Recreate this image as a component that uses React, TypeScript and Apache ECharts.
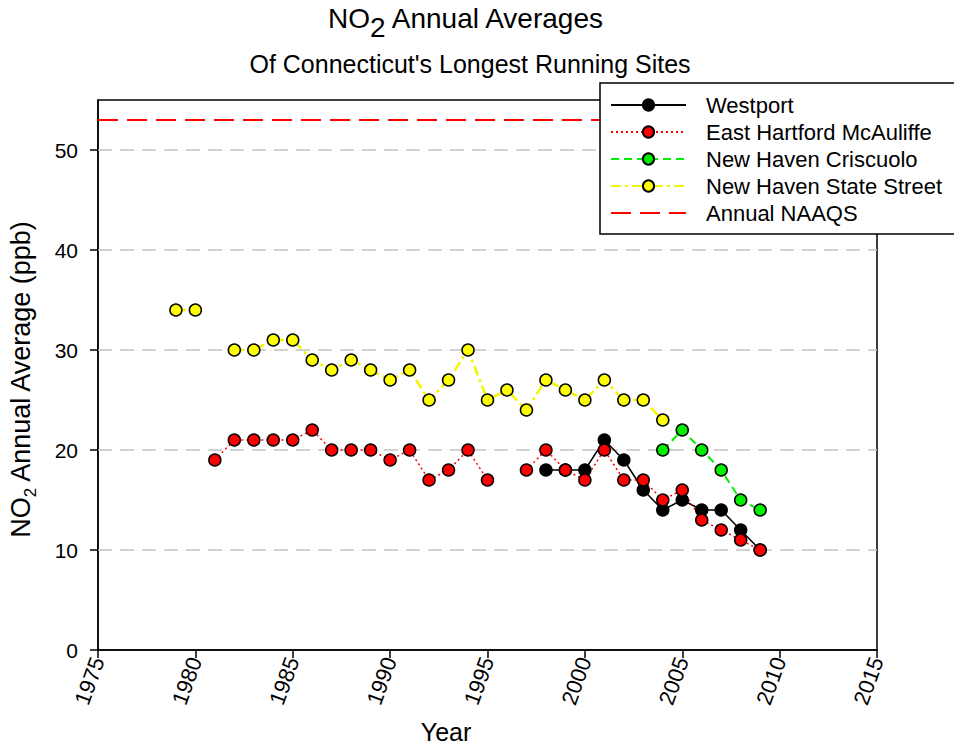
import React, { useEffect, useRef } from "react";
import * as echarts from "echarts";

const FONT = '"Liberation Sans", Arial, sans-serif';

const years = [
  1979, 1980, 1981, 1982, 1983, 1984, 1985, 1986, 1987, 1988, 1989, 1990, 1991, 1992, 1993, 1994,
  1995, 1996, 1997, 1998, 1999, 2000, 2001, 2002, 2003, 2004, 2005, 2006, 2007, 2008, 2009,
];
const westport = [
  null, null, null, null, null, null, null, null, null, null, null, null, null, null, null, null,
  null, null, null, 18, 18, 18, 21, 19, 16, 14, 15, 14, 14, 12, 10,
];
const eastHartford = [
  null, null, 19, 21, 21, 21, 21, 22, 20, 20, 20, 19, 20, 17, 18, 20,
  17, null, 18, 20, 18, 17, 20, 17, 17, 15, 16, 13, 12, 11, 10,
];
const criscuolo = [
  null, null, null, null, null, null, null, null, null, null, null, null, null, null, null, null,
  null, null, null, null, null, null, null, null, null, 20, 22, 20, 18, 15, 14,
];
const stateStreet = [
  34, 34, null, 30, 30, 31, 31, 29, 28, 29, 28, 27, 28, 25, 27, 30,
  25, 26, 24, 27, 26, 25, 27, 25, 25, 23, null, null, null, null, null,
];
const naaqsYears = [1975, 2015];
const naaqsValue = 53;
const gridValues = [10, 20, 30, 40, 50];
const yTicks = [0, 10, 20, 30, 40, 50];

function pairs(vals: (number | null)[]) {
  return years.map((y, i) => [y, vals[i]]);
}

function measure(text: string, size: number) {
  const c = document.createElement("canvas").getContext("2d");
  if (!c) return text.length * size * 0.55;
  c.font = `${size}px "Liberation Sans", Arial, sans-serif`;
  return c.measureText(text).width;
}

export default function App() {
  const ref = useRef<HTMLDivElement>(null);
  useEffect(() => {
    if (!ref.current) return;
    const chart = echarts.init(ref.current, null, { renderer: "svg" });

    const tSize = 28;
    const wNO = measure("NO", tSize);
    const w2 = measure("2", tSize);
    const wRest = measure(" Annual Averages", tSize);
    const tW = wNO + w2 + wRest;
    const tX = 467 - tW / 2;
    const tY = 4;

    const ySize = 27;
    const ySub = 17;
    const yNO = measure("NO", ySize);
    const y2 = measure("2", ySub);
    const yRest = measure(" Annual Average (ppb)", ySize);
    const yW = yNO + y2 + yRest;
    const yCenter = 378;

    const markerStyle = (color: string) => ({
      color,
      borderColor: "#000",
      borderWidth: 1.5,
    });

    const option: any = {
      animation: false,
      backgroundColor: "#fff",
      textStyle: { fontFamily: FONT },
      grid: {
        left: 98,
        right: 77,
        top: 100,
        bottom: 97,
        show: true,
        borderColor: "#000",
        borderWidth: 1.5,
        backgroundColor: "transparent",
      },
      legend: {
        orient: "vertical",
        left: 600,
        top: 83,
        padding: [11, 40, 10, 10],
        itemWidth: 75,
        itemHeight: 14,
        itemGap: 5,
        backgroundColor: "#fff",
        borderColor: "#000",
        borderWidth: 1.5,
        textStyle: { fontSize: 22, color: "#000", fontFamily: FONT, padding: [0, 0, 0, 15] },
        data: [
          "Westport",
          "East Hartford McAuliffe",
          "New Haven Criscuolo",
          "New Haven State Street",
          { name: "Annual NAAQS", itemStyle: { opacity: 0 } },
        ],
      },
      xAxis: {
        type: "value",
        min: 1975,
        max: 2015,
        interval: 5,
        axisLine: { show: true, lineStyle: { color: "#000", width: 1.5 } },
        axisTick: { show: true, inside: false, length: 8, lineStyle: { color: "#000", width: 1.5 } },
        axisLabel: {
          fontSize: 22,
          color: "#000",
          rotate: 70,
          margin: 8,
          fontFamily: FONT,
          formatter: (v: number) => String(v),
        },
        splitLine: { show: false },
      },
      yAxis: {
        type: "value",
        min: 0,
        max: 55,
        interval: 10,
        axisLine: { show: true, lineStyle: { color: "#000", width: 1.5 } },
        axisTick: {
          show: true,
          inside: false,
          length: 8,
          customValues: yTicks,
          lineStyle: { color: "#000", width: 1.5 },
        },
        axisLabel: {
          fontSize: 21,
          color: "#000",
          margin: 20,
          fontFamily: FONT,
          customValues: yTicks,
        },
        splitLine: { show: false },
      },
      series: [
        {
          name: "New Haven State Street",
          type: "line",
          data: pairs(stateStreet),
          connectNulls: false,
          symbol: "circle",
          symbolSize: 12,
          itemStyle: markerStyle("#ffff00"),
          lineStyle: { color: "#f5f500", width: 2.5, type: [10, 4, 3, 4] },
          z: 3,
          markLine: {
            silent: true,
            symbol: "none",
            label: { show: false },
            lineStyle: { color: "#c4c4c4", width: 1.5, type: [14, 8] },
            data: gridValues.map((v) => ({ yAxis: v })),
            z: 1,
          },
        },
        {
          name: "New Haven Criscuolo",
          type: "line",
          data: pairs(criscuolo),
          connectNulls: false,
          symbol: "circle",
          symbolSize: 12,
          itemStyle: markerStyle("#00ee00"),
          lineStyle: { color: "#00ee00", width: 2, type: [8, 5] },
          z: 3,
        },
        {
          name: "Westport",
          type: "line",
          data: pairs(westport),
          connectNulls: false,
          symbol: "circle",
          symbolSize: 12,
          itemStyle: markerStyle("#000000"),
          lineStyle: { color: "#000000", width: 1.5, type: "solid" },
          z: 3,
        },
        {
          name: "East Hartford McAuliffe",
          type: "line",
          data: pairs(eastHartford),
          connectNulls: false,
          symbol: "circle",
          symbolSize: 12,
          itemStyle: markerStyle("#ff0000"),
          lineStyle: { color: "#ff0000", width: 1.5, type: [2, 3] },
          z: 3,
        },
        {
          name: "Annual NAAQS",
          type: "line",
          data: naaqsYears.map((y) => [y, naaqsValue]),
          symbol: "none",
          showSymbol: false,
          itemStyle: { color: "#ff0000" },
          lineStyle: { color: "#ff0000", width: 2, type: [20, 9] },
          z: 2,
        },
      ],
      graphic: [
        {
          type: "text",
          left: tX,
          top: tY,
          style: { text: "NO", font: `${tSize}px ${FONT}`, fill: "#000" },
        },
        {
          type: "text",
          left: tX + wNO,
          top: tY + 9,
          style: { text: "2", font: `${tSize}px ${FONT}`, fill: "#000" },
        },
        {
          type: "text",
          left: tX + wNO + w2,
          top: tY,
          style: { text: " Annual Averages", font: `${tSize}px ${FONT}`, fill: "#000" },
        },
        {
          type: "text",
          x: 470,
          y: 51,
          style: {
            text: "Of Connecticut's Longest Running Sites",
            font: `25px ${FONT}`,
            fill: "#000",
            align: "center",
            verticalAlign: "top",
          },
        },
        {
          type: "text",
          x: 446,
          y: 719,
          style: {
            text: "Year",
            font: `25px ${FONT}`,
            fill: "#000",
            align: "center",
            verticalAlign: "top",
          },
        },
        {
          type: "group",
          x: 7,
          y: yCenter + yW / 2,
          rotation: Math.PI / 2,
          children: [
            {
              type: "text",
              x: 0,
              y: 0,
              style: { text: "NO", font: `${ySize}px ${FONT}`, fill: "#000", verticalAlign: "top" },
            },
            {
              type: "text",
              x: yNO,
              y: 15,
              style: { text: "2", font: `${ySub}px ${FONT}`, fill: "#000", verticalAlign: "top" },
            },
            {
              type: "text",
              x: yNO + y2,
              y: 0,
              style: {
                text: " Annual Average (ppb)",
                font: `${ySize}px ${FONT}`,
                fill: "#000",
                verticalAlign: "top",
              },
            },
          ],
        },
      ],
    };
    chart.setOption(option);
    return () => chart.dispose();
  }, []);
  return (
    <div
      ref={ref}
      style={{ position: "fixed", left: 0, top: 0, width: 954, height: 747, background: "#fff" }}
    />
  );
}
